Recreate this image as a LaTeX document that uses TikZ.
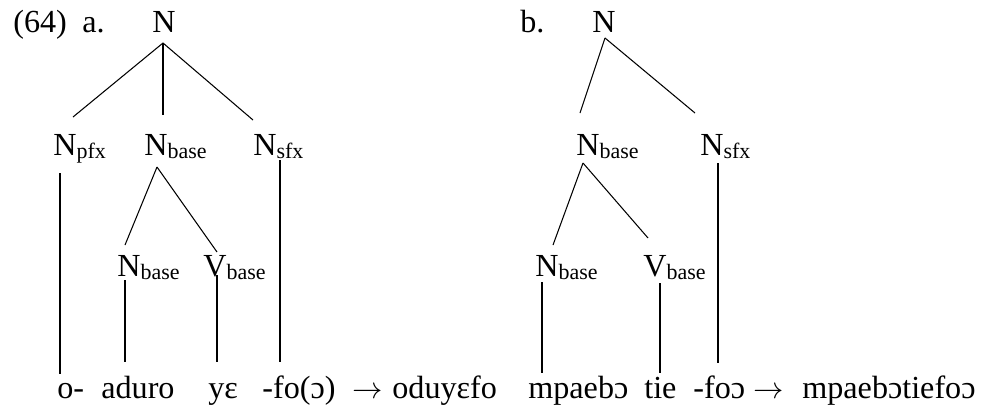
\documentclass[tikz,border=0pt]{standalone}
\usepackage{fontspec}
\setmainfont{Liberation Serif}
\usetikzlibrary{calc}
\newcommand{\lowsub}[1]{\raisebox{-1.8pt}{\fontsize{12.5}{14}\selectfont #1}}
\tikzset{
  lab/.style={anchor=base west,inner sep=0pt,font=\fontsize{18.3}{22}\selectfont},
  branch/.style={draw=black,line width=0.6pt},
}
\begin{document}
\begin{tikzpicture}[x=0.02cm,y=-0.02cm]
\useasboundingbox (0,0) rectangle (983,407);
% (64a)
\node[lab] (exNum) at (13,32) {(64)};
\node[lab] (aLbl) at (82,32) {a.};
\node[lab] (aN) at (152,32) {N};
\node[lab] (aPfx) at (53,155) {N\lowsub{pfx}};
\node[lab] (aBase) at (144,155) {N\lowsub{base}};
\node[lab] (aSfx) at (253,155) {N\lowsub{sfx}};
\node[lab] (aBaseN) at (117,276) {N\lowsub{base}};
\node[lab] (aBaseV) at (203,276) {V\lowsub{base}};
\node[lab] (aO) at (57,398) {o-};
\node[lab] (aAduro) at (101,398) {aduro};
\node[lab] (aYe) at (208,398) {yɛ};
\node[lab] (aFo) at (262,398) {-fo(ɔ)};
\node[lab] (aArr) at (352,398) {$\rightarrow$};
\node[lab] (aRes) at (392,398) {oduyɛfo};
\draw[branch] ($(aN.base west)+(11,11)$) -- ($(aPfx.base west)+(20,-38)$);
\draw[branch] ($(aN.base west)+(11,11)$) -- ($(aBase.base west)+(19,-40)$);
\draw[branch] ($(aN.base west)+(11,11)$) -- ($(aSfx.base west)+(0,-35)$);
\draw[branch] ($(aPfx.base west)+(7,18)$) -- ($(aO.base west)+(3,-24)$);
\draw[branch] ($(aBase.base west)+(13,12)$) -- ($(aBaseN.base west)+(8,-31)$);
\draw[branch] ($(aBase.base west)+(13,12)$) -- ($(aBaseV.base west)+(14,-24)$);
\draw[branch] ($(aBaseN.base west)+(8,4)$) -- ($(aAduro.base west)+(24,-36)$);
\draw[branch] ($(aBaseV.base west)+(14,-1)$) -- ($(aYe.base west)+(9,-36)$);
\draw[branch] ($(aSfx.base west)+(27,5)$) -- ($(aFo.base west)+(18,-36)$);
% (64b)
\node[lab] (bLbl) at (520,32) {b.};
\node[lab] (bN) at (592,32) {N};
\node[lab] (bBase) at (576,155) {N\lowsub{base}};
\node[lab] (bSfx) at (700,155) {N\lowsub{sfx}};
\node[lab] (bBaseN) at (535,276) {N\lowsub{base}};
\node[lab] (bBaseV) at (643,276) {V\lowsub{base}};
\node[lab] (bMpa) at (528,398) {mpaebɔ};
\node[lab] (bTie) at (644,398) {tie};
\node[lab] (bFo) at (693,398) {-foɔ};
\node[lab] (bArr) at (753,398) {$\rightarrow$};
\node[lab] (bRes) at (802,398) {mpaebɔtiefoɔ};
\draw[branch] ($(bN.base west)+(13,6)$) -- ($(bBase.base west)+(4,-42)$);
\draw[branch] ($(bN.base west)+(13,6)$) -- ($(bSfx.base west)+(-5,-42)$);
\draw[branch] ($(bBase.base west)+(7,8)$) -- ($(bBaseN.base west)+(18,-31)$);
\draw[branch] ($(bBase.base west)+(7,8)$) -- ($(bBaseV.base west)+(5,-38)$);
\draw[branch] ($(bBaseN.base west)+(7,6)$) -- ($(bMpa.base west)+(14,-25)$);
\draw[branch] ($(bBaseV.base west)+(17,7)$) -- ($(bTie.base west)+(16,-25)$);
\draw[branch] ($(bSfx.base west)+(18,8)$) -- ($(bFo.base west)+(25,-35)$);
\end{tikzpicture}
\end{document}
